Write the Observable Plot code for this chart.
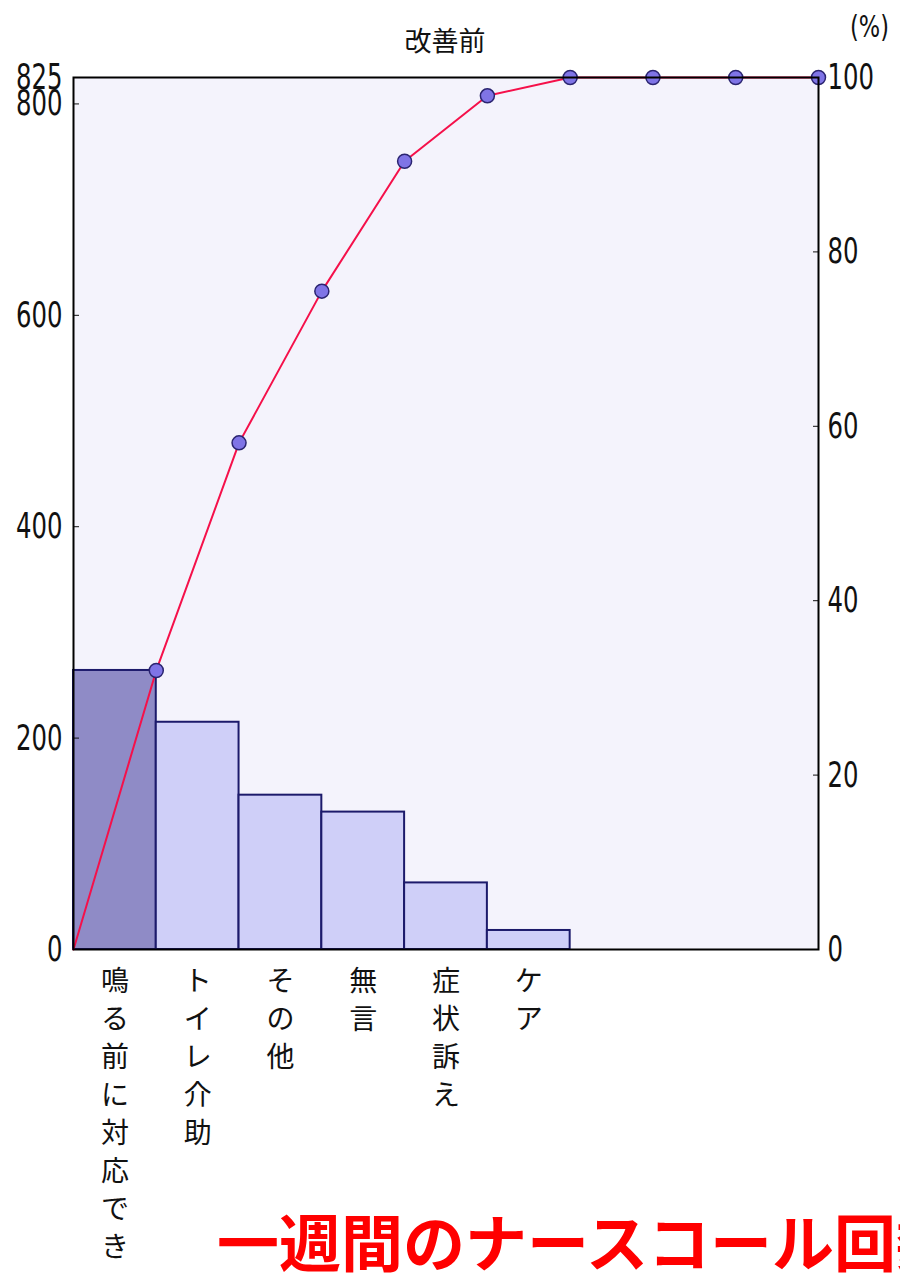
<!DOCTYPE html>
<html>
<head>
<meta charset="utf-8">
<script src="https://cdn.jsdelivr.net/npm/d3@7"></script>
<script src="https://cdn.jsdelivr.net/npm/@observablehq/plot@0.6"></script>
<style>
  html, body { margin: 0; padding: 0; background: #ffffff; overflow: hidden; width: 900px; height: 1275px; }
  #wrap { position: relative; width: 900px; height: 1275px; overflow: hidden; }
  #title { position: absolute; left: 345px; width: 200px; top: 26px; text-align: center;
           font-family: "Noto Sans CJK JP", sans-serif; font-size: 27px; color: #111; line-height: 1; }
  #pct { position: absolute; left: 850px; top: 12px; font-family: "DejaVu Sans", sans-serif;
         font-size: 30px; color: #111; line-height: 1; transform: scaleX(0.75); transform-origin: left top; }
  #caption { position: absolute; left: 217px; top: 1209px; white-space: nowrap;
             font-family: "Noto Sans CJK JP", sans-serif; font-weight: 700; font-size: 62px; color: #ff0000; line-height: 1; }
  #chart { position: absolute; left: 0; top: 0; }
</style>
</head>
<body>
<div id="wrap">
  <div id="chart"></div>
  <div id="title">改善前</div>
  <div id="pct">(%)</div>
  <div id="caption">一週間のナースコール回数</div>
</div>
<script>
// ---- data ----
const categories = ["鳴る前に対応でき", "トイレ介助", "その他", "無言", "症状訴え", "ケア", "", "", ""];
const counts = [264, 215, 146, 130, 63, 18, 0, 0, 0];
const cumulativePct = [32.0, 58.1, 75.5, 90.4, 97.9, 100, 100, 100, 100];
const leftTicks = [0, 200, 400, 600, 800, 825];
const rightTicks = [0, 20, 40, 60, 80, 100];
const total = 825;

const bars = categories.map((label, i) => ({i, label, count: counts[i]}));
const cumLine = [{x: 0, y: 0}].concat(cumulativePct.map((p, i) => ({x: i + 1, y: p * total / 100})));

const numFont = '"DejaVu Sans", sans-serif';

const chart = Plot.plot({
  width: 900,
  height: 1275,
  marginTop: 77,
  marginBottom: 326,
  marginLeft: 73,
  marginRight: 82,
  x: {type: "linear", domain: [0, categories.length], axis: null},
  y: {domain: [0, total], axis: null},
  style: {background: "transparent", fontFamily: '"Noto Sans CJK JP", sans-serif'},
  marks: [
    Plot.frame({fill: "#f4f3fc", stroke: null}),
    Plot.rectY(bars.filter(d => d.i === 0), {x1: "i", x2: d => d.i + 1, y: "count", fill: "#8f8bc6", stroke: "#1c1a6b", strokeWidth: 2}),
    Plot.rectY(bars.filter(d => d.i > 0 && d.count > 0), {x1: "i", x2: d => d.i + 1, y: "count", fill: "#cfcff8", stroke: "#1c1a6b", strokeWidth: 2}),
    Plot.line(cumLine, {x: "x", y: "y", stroke: "#f5104a", strokeWidth: 2}),
    Plot.dot(cumLine.slice(1), {x: "x", y: "y", r: 7, fill: "#7f74e6", stroke: "#2a2470", strokeWidth: 1.5}),
    Plot.axisY(leftTicks, {anchor: "left", tickSize: -6, tickPadding: 17, fontSize: 36, fontFamily: numFont, stroke: "#111", fill: "#111"}),
    Plot.axisY(rightTicks.map(p => p * total / 100), {anchor: "right", tickSize: -6, tickPadding: 15, fontSize: 36, fontFamily: numFont,
      tickFormat: d => Math.round(d / total * 100), stroke: "#111", fill: "#111"}),
    Plot.text(bars.filter(d => d.label), {x: d => d.i + 0.5, y: () => 0, text: d => d.label.split("").join("\n"),
      lineAnchor: "top", dy: 14, lineHeight: 1.36, fontSize: 28, fill: "#111"}),
    Plot.frame({stroke: "#000", strokeWidth: 2})
  ]
});
document.getElementById("chart").appendChild(chart);

// condense the numeric tick labels like the reference's narrow font
d3.select(chart).selectAll('g[aria-label="y-axis tick label"] text').each(function() {
  const n = this.textContent.length;
  this.setAttribute("textLength", n * 15.5);
  this.setAttribute("lengthAdjust", "spacingAndGlyphs");
});
</script>
</body>
</html>
